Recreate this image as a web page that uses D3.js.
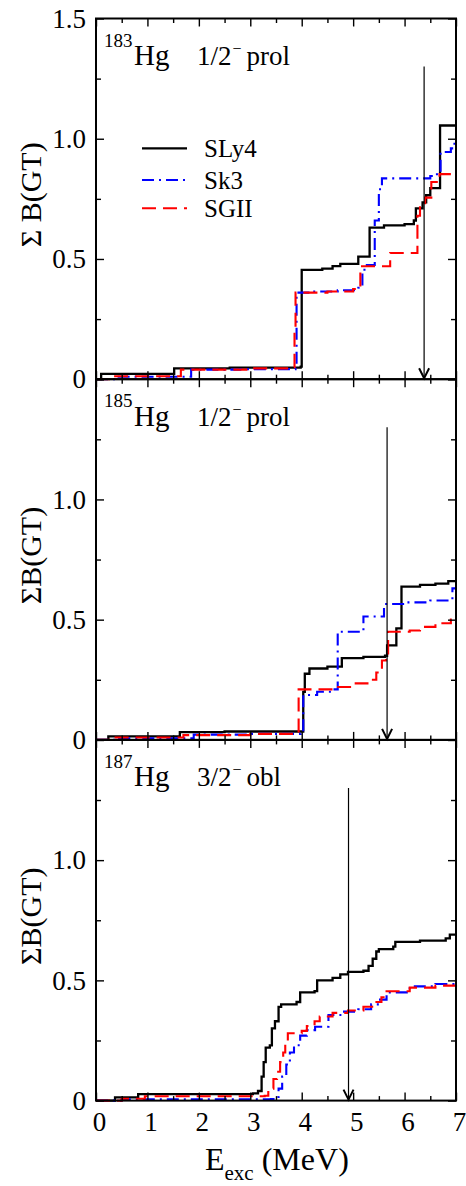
<!DOCTYPE html>
<html>
<head>
<meta charset="utf-8">
<script src="https://cdn.jsdelivr.net/npm/d3@7"></script>
<style>
  body { margin: 0; background: #fff; }
  svg { display: block; }
  svg text { font-family: 'Liberation Serif', 'Times New Roman', Times, 'DejaVu Serif', serif; fill: #000; }
</style>
</head>
<body>
<svg id="chart" width="466" height="1186"></svg>
<script>
// cumulative B(GT), [E_exc (MeV), sum]
const sly4_183 = [[0, 0], [0.1, 0.022], [1.52, 0.045], [2.6, 0.048], [3.98, 0.052], [4.0, 0.455], [4.4, 0.46], [4.6, 0.47], [4.75, 0.48], [5.1, 0.51], [5.32, 0.63], [5.6, 0.64], [6.0, 0.645], [6.18, 0.66], [6.22, 0.71], [6.35, 0.735], [6.42, 0.765], [6.5, 0.795], [6.69, 1.055], [7, 1.055]]
const sk3_183 = [[0, 0], [0.4, 0.01], [1.85, 0.04], [2.8, 0.042], [3.88, 0.045], [3.9, 0.36], [4.2, 0.365], [4.7, 0.37], [5.1, 0.38], [5.18, 0.45], [5.22, 0.475], [5.42, 0.66], [5.5, 0.79], [5.56, 0.835], [6.5, 0.845], [6.63, 0.86], [6.7, 0.945], [6.9, 0.96], [6.97, 1.0], [7, 1.0]]
const sgii_183 = [[0, 0], [0.3, 0.012], [1.65, 0.04], [3.0, 0.045], [3.84, 0.05], [3.86, 0.2], [3.88, 0.36], [4.5, 0.365], [5.0, 0.375], [5.14, 0.47], [5.72, 0.525], [6.25, 0.68], [6.3, 0.72], [6.4, 0.755], [6.52, 0.82], [6.68, 0.853], [7, 0.853]]

const sly4_185 = [[0, 0], [0.24, 0.015], [1.63, 0.032], [2.5, 0.035], [4.03, 0.2], [4.06, 0.275], [4.15, 0.297], [4.5, 0.305], [4.78, 0.34], [5.2, 0.345], [5.62, 0.35], [5.66, 0.393], [5.84, 0.464], [5.94, 0.637], [6.3, 0.645], [6.6, 0.65], [6.85, 0.66], [7, 0.66]]
const sk3_185 = [[0, 0], [0.45, 0.007], [1.9, 0.022], [3.0, 0.025], [3.98, 0.03], [4.03, 0.187], [4.3, 0.2], [4.6, 0.21], [4.7, 0.45], [5.2, 0.513], [5.6, 0.565], [6.0, 0.572], [6.5, 0.58], [6.93, 0.63], [7, 0.63]]
const sgii_185 = [[0, 0], [0.35, 0.01], [1.7, 0.02], [3.0, 0.025], [3.94, 0.21], [4.6, 0.22], [5.05, 0.235], [5.3, 0.25], [5.45, 0.28], [5.56, 0.33], [5.64, 0.36], [5.68, 0.45], [6.1, 0.455], [6.3, 0.47], [6.6, 0.485], [6.9, 0.5], [7, 0.5]]

const sly4_187 = [[0, 0], [0.37, 0.013], [0.82, 0.027], [3.05, 0.03], [3.15, 0.04], [3.22, 0.1], [3.26, 0.16], [3.3, 0.22], [3.38, 0.23], [3.42, 0.3], [3.48, 0.33], [3.55, 0.39], [3.6, 0.4], [3.9, 0.41], [3.97, 0.45], [4.25, 0.455], [4.3, 0.5], [4.6, 0.51], [4.75, 0.525], [4.9, 0.535], [5.2, 0.54], [5.3, 0.56], [5.38, 0.59], [5.45, 0.62], [5.5, 0.63], [5.78, 0.64], [5.82, 0.66], [6.3, 0.665], [6.8, 0.675], [6.88, 0.69], [7, 0.69]]
const sk3_187 = [[0, 0], [0.5, 0.005], [3.4, 0.006], [3.48, 0.015], [3.55, 0.05], [3.62, 0.1], [3.7, 0.15], [3.77, 0.2], [3.85, 0.23], [3.97, 0.27], [4.1, 0.293], [4.26, 0.307], [4.52, 0.356], [4.8, 0.37], [5.1, 0.38], [5.35, 0.4], [5.5, 0.42], [5.65, 0.45], [6.1, 0.475], [6.6, 0.485], [6.95, 0.497], [7, 0.497]]
const sgii_187 = [[0, 0], [0.5, 0.008], [0.95, 0.018], [3.28, 0.02], [3.35, 0.05], [3.45, 0.09], [3.52, 0.12], [3.58, 0.16], [3.64, 0.2], [3.68, 0.25], [3.73, 0.28], [4.0, 0.29], [4.1, 0.31], [4.25, 0.33], [4.35, 0.35], [4.6, 0.365], [4.9, 0.375], [5.2, 0.39], [5.4, 0.41], [5.55, 0.43], [5.65, 0.455], [6.1, 0.47], [6.6, 0.478], [7, 0.48]]

const seriesNames = ['SLy4', 'Sk3', 'SGII']
const massNumbers = ['183', '185', '187']
const spins = ['1/2', '1/2', '3/2']
const shapes = ['prol', 'prol', 'obl']
const yLabels = ['\u03a3 B(GT)', '\u03a3B(GT)', '\u03a3B(GT)']
const arrowE = [6.38, 5.66, 4.91]
const arrowTop = 1.3
const xMajor = [0, 1, 2, 3, 4, 5, 6, 7]
const xMinor = [0.5, 1.5, 2.5, 3.5, 4.5, 5.5, 6.5]
const yMajor = [0, 0.5, 1.0, 1.5]
const yMinor = [0.25, 0.75, 1.25]

const panelData = [
  [sly4_183, sk3_183, sgii_183],
  [sly4_185, sk3_185, sgii_185],
  [sly4_187, sk3_187, sgii_187]
]

const styles = [
  { color: '#000000', dash: null, width: 2.3 },
  { color: '#0000ff', dash: '12,5,2,5', width: 2.1 },
  { color: '#ff0000', dash: '14,7', width: 2.1 }
]

const serif = "'Liberation Serif', 'Times New Roman', Times, 'DejaVu Serif', serif"
const svg = d3.select('#chart').attr('font-family', serif)
const left = 96, right = 456
const panelTop = 18.5, panelHeight = 360.7

const x = d3.scaleLinear().domain([0, 7]).range([left, right])

function tidy(g, size) {
  g.attr('font-family', serif)
  g.select('.domain').remove()
  g.selectAll('line').attr('stroke', '#000').attr('stroke-width', 1.4)
  g.selectAll('text').attr('font-size', size).attr('font-family', serif)
}

panelData.forEach((series, i) => {
  const top = panelTop + i * panelHeight
  const bottom = top + panelHeight
  const y = d3.scaleLinear().domain([0, 1.5]).range([bottom, top])
  const g = svg.append('g')

  const line = d3.line()
      .x(d => x(d[0]))
      .y(d => y(d[1]))
      .curve(d3.curveStepAfter)

  series.forEach((data, k) => {
    g.append('path')
        .datum(data)
        .attr('fill', 'none')
        .attr('stroke', styles[k].color)
        .attr('stroke-width', styles[k].width)
        .attr('stroke-dasharray', styles[k].dash)
        .attr('d', line)
  })

  // axes, ticks pointing inwards
  const last = i === panelData.length - 1
  g.append('g')
      .attr('transform', 'translate(0,' + bottom + ')')
      .call(d3.axisBottom(x).tickValues(xMajor).tickSize(-8).tickSizeOuter(0).tickPadding(11)
          .tickFormat(last ? d3.format('d') : ''))
      .call(a => tidy(a, 27))
      .call(a => a.selectAll('text').attr('dx', 3))
  g.append('g')
      .attr('transform', 'translate(0,' + bottom + ')')
      .call(d3.axisBottom(x).tickValues(xMinor).tickSize(-4.5).tickSizeOuter(0).tickFormat(''))
      .call(a => tidy(a, 27))
  g.append('g')
      .attr('transform', 'translate(0,' + top + ')')
      .call(d3.axisTop(x).tickValues(xMajor).tickSize(-8).tickSizeOuter(0).tickFormat(''))
      .call(a => tidy(a, 27))
  g.append('g')
      .attr('transform', 'translate(0,' + top + ')')
      .call(d3.axisTop(x).tickValues(xMinor).tickSize(-4.5).tickSizeOuter(0).tickFormat(''))
      .call(a => tidy(a, 27))

  g.append('g')
      .attr('transform', 'translate(' + left + ',0)')
      .call(d3.axisLeft(y).tickValues(yMajor).tickSize(-8).tickSizeOuter(0).tickPadding(10)
          .tickFormat(d => d === 0 ? '0' : (i > 0 && d === 1.5 ? '' : d.toFixed(1))))
      .call(a => tidy(a, 27))
  g.append('g')
      .attr('transform', 'translate(' + left + ',0)')
      .call(d3.axisLeft(y).tickValues(yMinor).tickSize(-5).tickSizeOuter(0).tickFormat(''))
      .call(a => tidy(a, 27))
  g.append('g')
      .attr('transform', 'translate(' + right + ',0)')
      .call(d3.axisRight(y).tickValues(yMajor).tickSize(-8).tickSizeOuter(0).tickFormat(''))
      .call(a => tidy(a, 27))
  g.append('g')
      .attr('transform', 'translate(' + right + ',0)')
      .call(d3.axisRight(y).tickValues(yMinor).tickSize(-5).tickSizeOuter(0).tickFormat(''))
      .call(a => tidy(a, 27))

  g.append('rect')
      .attr('x', left)
      .attr('y', top)
      .attr('width', right - left)
      .attr('height', panelHeight)
      .attr('fill', 'none')
      .attr('stroke', '#000')
      .attr('stroke-width', 2)

  // arrow
  const ax = x(arrowE[i])
  g.append('line')
      .attr('x1', ax).attr('x2', ax)
      .attr('y1', y(arrowTop)).attr('y2', y(0))
      .attr('stroke', '#000')
      .attr('stroke-width', 1.2)
  g.append('polyline')
      .attr('points', [[ax - 5, y(0) - 11], [ax, y(0) - 1], [ax + 5, y(0) - 11]].join(' '))
      .attr('fill', 'none')
      .attr('stroke', '#000')
      .attr('stroke-width', 2)

  // nucleus label
  g.append('text')
      .attr('x', 104)
      .attr('y', top + 28)
      .attr('font-size', 19)
      .text(massNumbers[i])
  g.append('text')
      .attr('x', 134)
      .attr('y', top + 46.5)
      .attr('font-size', 29)
      .text('Hg')
  const st = g.append('text')
      .attr('x', 197)
      .attr('y', top + 46.5)
      .attr('font-size', 27)
  st.append('tspan').text(spins[i])
  st.append('tspan').attr('font-size', 16).attr('dx', 1).attr('dy', -11).text('\u2212')
  st.append('tspan').attr('dx', 5).attr('dy', 11).text(shapes[i])

  // y label
  g.append('text')
      .attr('transform', 'translate(41,' + (top + panelHeight / 2 - 4) + ') rotate(-90)')
      .attr('text-anchor', 'middle')
      .attr('font-size', 30)
      .text(yLabels[i])

  if (i === 0) {
    const legend = g.append('g')
    seriesNames.forEach((name, k) => {
      const ly = [148.3, 180, 208.3][k]
      legend.append('line')
          .attr('x1', 142).attr('x2', 187)
          .attr('y1', ly).attr('y2', ly)
          .attr('stroke', styles[k].color)
          .attr('stroke-width', styles[k].width)
          .attr('stroke-dasharray', styles[k].dash)
      legend.append('text')
          .attr('x', 204)
          .attr('y', ly + 9)
          .attr('font-size', 25)
          .text(name)
    })
  }
})

// x label
const xl = svg.append('text')
    .attr('x', 205)
    .attr('y', 1170)
    .attr('font-size', 32)
xl.append('tspan').text('E')
xl.append('tspan').attr('font-size', 21).attr('dy', 10).text('exc')
xl.append('tspan').attr('dy', -10).text(' (MeV)')
</script>
</body>
</html>
